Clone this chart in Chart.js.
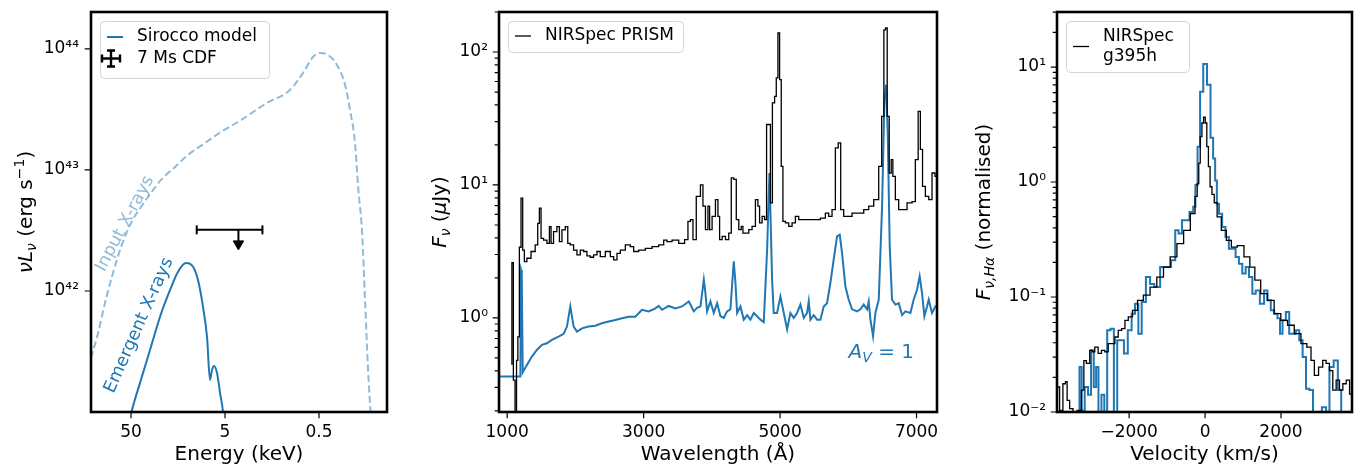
<!DOCTYPE html>
<html>
<head>
<meta charset="utf-8">
<script src="https://cdn.jsdelivr.net/npm/chart.js@4.4.1/dist/chart.umd.min.js"></script>
<style>
  body { margin: 0; background: #fff; }
  #wrap { position: relative; width: 1354px; height: 466px; overflow: hidden; }
  canvas { position: absolute; top: 0; }
</style>
</head>
<body>
<div id="wrap">
  <canvas id="xray" width="400" height="466" style="left:0"></canvas>
  <canvas id="prism" width="550" height="466" style="left:400px"></canvas>
  <canvas id="halpha" width="404" height="466" style="left:950px"></canvas>
</div>
<script>
// ---- panel 1 : x-ray SED (energy in keV, nuLnu in erg/s)
const energyIn = [133.2, 112, 94.6, 77.7, 63.8, 50, 39.2, 30.6, 24.0, 17.0,
  12.4, 8.17, 5.52, 3.64, 1.79, 1.02, 0.74, 0.58, 0.488, 0.401,
  0.322, 0.264, 0.234, 0.207, 0.192, 0.174, 0.162, 0.151, 0.140];
const lumIn = [2.79e41, 4.5e41, 7.96e41, 1.41e42, 2.31e42, 3.65e42, 4.94e42, 6.46e42, 8.27e42, 1.06e43,
  1.33e43, 1.67e43, 2.06e43, 2.49e43, 3.58e43, 4.58e43, 6.33e43, 8.58e43, 9.27e43, 8.92e43,
  7.38e43, 5.04e43, 3.13e43, 1.67e43, 7.24e42, 3.02e42, 8.44e41, 2.36e41, 8.6e40];
const energyOut = [55, 48.8, 40.1, 31.4, 24.6, 19.2, 15.8, 13.0, 10.9, 9.69,
  8.57, 7.77, 7.22, 6.88, 6.55, 6.08, 5.65, 5.25, 5.0];
const lumOut = [7e40, 1.04e41, 1.74e41, 3.25e41, 6.1e41, 1.02e42, 1.44e42, 1.70e42, 1.58e42, 1.23e42,
  7.38e41, 4.17e41, 1.84e41, 2.22e41, 2.4e41, 2.1e41, 1.44e41, 1.0e41, 6e40];
// 7 Ms CDF upper limit (2-10 keV band)
const cdfBand = [10, 2];
const cdfLimit = 3.2e42;
const cdfArrowE = 3.6;
const cdfArrowEnd = 2.45e42;
const energyTicks = [50, 5, 0.5];
const lumTicks = [1e42, 1e43, 1e44];

// ---- panel 2 : PRISM spectrum (Angstrom, microJy)
const prismWave = [1060, 1078, 1103, 1127, 1147, 1166, 1191, 1215, 1240, 1264,
  1313, 1386, 1435, 1460, 1484, 1509, 1558, 1607, 1631, 1655,
  1704, 1753, 1778, 1827, 1876, 1900, 1949, 1998, 2047, 2096,
  2145, 2193, 2242, 2291, 2340, 2389, 2487, 2536, 2585, 2634,
  2683, 2780, 2829, 2878, 2976, 3074, 3172, 3270, 3318, 3367,
  3465, 3563, 3637, 3662, 3711, 3735, 3808, 3857, 3882, 3930,
  3955, 3979, 4028, 4077, 4101, 4126, 4175, 4223, 4272, 4297,
  4346, 4370, 4419, 4443, 4468, 4517, 4565, 4614, 4663, 4687,
  4712, 4761, 4785, 4819, 4849, 4868, 4907, 4932, 4956, 4981,
  5005, 5029, 5054, 5103, 5151, 5200, 5249, 5298, 5347, 5444,
  5542, 5640, 5688, 5737, 5786, 5835, 5869, 5908, 5957, 6031,
  6079, 6177, 6275, 6324, 6421, 6470, 6509, 6534, 6558, 6582,
  6617, 6641, 6665, 6714, 6763, 6812, 6910, 6958, 7007, 7041,
  7071, 7105, 7154, 7203, 7251, 7290];
const prismFlux = [0.45, 2.6, 0.34, 0.12, 0.48, 0.72, 3.4, 7.95, 3.24, 2.65,
  2.81, 3.16, 3.54, 5.15, 6.68, 3.97, 3.85, 3.64, 4.86, 3.64,
  4.46, 4.86, 3.75, 4.59, 4.86, 3.64, 3.54, 3.24, 2.98, 3.24,
  3.16, 2.93, 2.86, 2.98, 3.16, 2.89, 3.16, 2.89, 2.73, 3.06,
  3.24, 3.54, 3.44, 3.16, 3.24, 3.34, 3.44, 3.54, 3.85, 3.75,
  3.85, 3.64, 3.88, 5.33, 5.48, 3.88, 8.22, 10.0, 6.92, 4.61,
  6.92, 4.61, 5.81, 7.76, 5.81, 3.88, 4.11, 3.88, 4.35, 11.3,
  11.0, 5.48, 4.61, 4.88, 4.35, 4.35, 4.61, 4.88, 7.76, 6.92,
  5.18, 5.81, 5.48, 28.5, 28.5, 7.33, 41.4, 46.4, 63.8, 139,
  61.9, 13.8, 5.33, 5.18, 4.88, 5.18, 5.81, 5.48, 5.48, 5.48,
  5.48, 5.64, 6.15, 5.81, 6.53, 19.0, 20.7, 6.53, 5.81, 5.81,
  6.15, 6.15, 6.53, 6.92, 7.76, 13.8, 32.8, 147, 152, 32.8,
  12.3, 15.5, 11.6, 7.76, 6.53, 6.53, 7.33, 7.5, 15.5, 35.8,
  18.5, 9.77, 8.22, 7.76, 12.3, 11.6];
const modelWave = [880, 1193, 1203, 1213, 1228, 1289, 1362, 1435, 1509, 1582,
  1655, 1753, 1827, 1876, 1925, 1974, 2023, 2096, 2193, 2291,
  2389, 2487, 2585, 2683, 2780, 2878, 2976, 3074, 3172, 3220,
  3270, 3367, 3465, 3563, 3661, 3686, 3735, 3784, 3833, 3882,
  3906, 3930, 3979, 4028, 4077, 4126, 4175, 4223, 4272, 4321,
  4346, 4370, 4419, 4468, 4517, 4565, 4614, 4663, 4712, 4761,
  4810, 4844, 4883, 4907, 4956, 5005, 5054, 5103, 5151, 5200,
  5249, 5298, 5347, 5396, 5420, 5444, 5493, 5542, 5591, 5640,
  5688, 5737, 5786, 5835, 5874, 5908, 5957, 6006, 6055, 6128,
  6177, 6226, 6275, 6299, 6324, 6363, 6397, 6446, 6495, 6529,
  6553, 6578, 6607, 6641, 6690, 6739, 6788, 6837, 6910, 6958,
  7007, 7046, 7081, 7115, 7154, 7178, 7227, 7276, 7310];
const modelFlux = [0.362, 0.362, 2.3, 2.2, 0.39, 0.443, 0.512, 0.574, 0.627, 0.645,
  0.684, 0.724, 0.759, 0.861, 1.22, 0.861, 0.789, 0.835, 0.861, 0.873,
  0.912, 0.94, 0.966, 0.995, 1.02, 1.02, 1.15, 1.12, 1.18, 1.23,
  1.15, 1.23, 1.18, 1.22, 1.33, 1.26, 1.12, 1.19, 1.22, 1.94,
  1.53, 1.12, 1.33, 1.09, 1.29, 1.03, 1.0, 1.12, 1.16, 2.67,
  1.83, 1.09, 1.22, 0.97, 1.05, 0.97, 1.09, 1.03, 0.97, 0.93,
  3.27, 12.3, 1.94, 1.09, 1.09, 1.45, 1.09, 0.82, 1.09, 1.0,
  1.09, 1.26, 1.0, 1.09, 1.33, 0.97, 1.05, 0.97, 0.97, 1.22,
  1.29, 1.83, 2.75, 4.11, 4.23, 3.08, 1.73, 1.37, 1.16, 1.12,
  1.16, 1.26, 1.16, 1.33, 0.97, 0.728, 1.09, 1.37, 6.92, 43.8,
  56.8, 24.6, 3.46, 1.37, 1.26, 1.29, 1.05, 1.12, 1.09, 1.37,
  1.63, 2.06, 1.53, 1.03, 1.22, 1.37, 1.09, 1.22, 1.25];
const waveTicks = [1000, 3000, 5000, 7000];

// ---- panel 3 : H-alpha velocity profile (km/s, normalised)
const velPrism = [-3876, -3788, -3700, -3656, -3611, -3523, -3435, -3302, -3214, -3170,
  -3082, -2993, -2949, -2861, -2773, -2684, -2596, -2508, -2419, -2331,
  -2243, -2155, -2066, -1978, -1845, -1713, -1536, -1360, -1183, -1007,
  -830, -653, -477, -300, -230, -184, -149, -105, -61, -18,
  26, 66, 110, 153, 210, 274, 362, 494, 627, 759,
  936, 1113, 1245, 1377, 1554, 1731, 1907, 2084, 2260, 2437,
  2614, 2746, 2834, 2923, 3055, 3143, 3232, 3320, 3408, 3497,
  3585, 3673, 3762, 3850];
const fluxPrism = [0.0165, 0.0103, 0.0176, 0.0184, 0.0126, 0.0107, 0.0100, 0.0103, 0.0155, 0.028,
  0.0265, 0.0344, 0.0334, 0.0367, 0.0323, 0.0344, 0.0334, 0.0393, 0.0393, 0.0449,
  0.0513, 0.053, 0.0627, 0.0672, 0.0766, 0.0936, 0.104, 0.122, 0.149, 0.182,
  0.223, 0.291, 0.38, 0.531, 0.75, 0.97, 1.46, 2.48, 3.26, 3.66,
  3.26, 2.03, 1.36, 0.91, 0.78, 0.66, 0.497, 0.38, 0.311, 0.272,
  0.28, 0.223, 0.182, 0.140, 0.107, 0.0936, 0.0716, 0.0627, 0.0568, 0.048,
  0.0393, 0.0367, 0.0281, 0.0208, 0.0246, 0.0281, 0.0265, 0.0229, 0.0155, 0.0189,
  0.0155, 0.0176, 0.0189, 0.0143];
const velModel = [-3900, -3330, -3285, -3214, -3126, -3038, -2967, -2896, -2843, -2773,
  -2684, -2623, -2534, -2446, -2358, -2269, -2181, -2093, -1978, -1890,
  -1801, -1713, -1625, -1492, -1404, -1272, -1095, -962, -830, -742,
  -653, -565, -477, -344, -280, -230, -166, -96, 0, 103,
  184, 240, 290, 330, 406, 494, 583, 671, 759, 848,
  936, 1024, 1113, 1201, 1289, 1377, 1510, 1598, 1687, 1775,
  1863, 1951, 1996, 2084, 2172, 2260, 2349, 2437, 2525, 2614,
  2702, 2790, 2896, 3011, 3143, 3232, 3320, 3453, 3541, 3630,
  3762, 3870];
const fluxModel = [0.005, 0.005, 0.0246, 0.0103, 0.0165, 0.0141, 0.0344, 0.0165, 0.0246, 0.008,
  0.0141, 0.008, 0.0513, 0.053, 0.008, 0.042, 0.042, 0.0323, 0.0513, 0.0716,
  0.0875, 0.048, 0.0905, 0.149, 0.13, 0.122, 0.182, 0.182, 0.209, 0.38,
  0.356, 0.465, 0.465, 0.55, 0.61, 0.94, 2.03, 6.1, 10.6, 7.0,
  2.43, 1.6, 1.03, 0.648, 0.531, 0.406, 0.333, 0.263, 0.263, 0.223,
  0.195, 0.16, 0.182, 0.149, 0.107, 0.114, 0.0875, 0.114, 0.0936, 0.0766,
  0.0716, 0.0653, 0.048, 0.0627, 0.0741, 0.048, 0.048, 0.0513, 0.042, 0.0301,
  0.0159, 0.0155, 0.008, 0.008, 0.011, 0.008, 0.0246, 0.0281, 0.0155, 0.008,
  0.008, 0.008];
const velTicks = [-2000, 0, 2000];

// ---------------------------------------------------------------
const FONT = "DejaVu Sans";
const BLUE = "#1f77b4";
const LIGHT = "rgba(31,119,180,0.5)";
Chart.defaults.font.family = FONT;
Chart.defaults.color = "#000";

const SUP = { "0": "⁰", "1": "¹", "2": "²", "3": "³", "4": "⁴", "5": "⁵", "6": "⁶", "7": "⁷", "8": "⁸", "9": "⁹", "-": "⁻" };
const isPow10 = (v) => Math.abs(Math.log10(v) - Math.round(Math.log10(v))) < 1e-6;
const powLabel = (v) => "10" + String(Math.round(Math.log10(v))).split("").map((c) => SUP[c]).join("");
const minus = (v) => (v < 0 ? "\u2212" + Math.abs(v) : String(v));
const pts = (xs, ys) => xs.map((x, i) => ({ x, y: ys[i] }));

// 1..9 x 10^n between lo and hi (log minor ticks)
function logTicks(lo, hi) {
  const out = [];
  for (let e = Math.floor(Math.log10(lo)); e <= Math.ceil(Math.log10(hi)); e++) {
    for (let k = 1; k < 10; k++) {
      const v = k * Math.pow(10, e);
      if (v >= lo && v <= hi) out.push(v);
    }
  }
  return out;
}

// text with italic / sub / superscript bits, like matplotlib mathtext
function richText(ctx, parts, x, y, size, o = {}) {
  const list = parts.map((p) => (typeof p === "string" ? { t: p } : Object.assign({}, p)));
  const f = (p) => `${p.it ? "italic " : ""}${p.sub || p.sup ? size * 0.7 : size}px "${FONT}"`;
  let w = 0;
  list.forEach((p) => { ctx.font = f(p); p.w = ctx.measureText(p.t).width; w += p.w; });
  ctx.save();
  ctx.translate(x, y);
  if (o.rot) ctx.rotate((o.rot * Math.PI) / 180);
  ctx.fillStyle = o.color || "#000";
  ctx.textBaseline = o.baseline || "alphabetic";
  let cx = o.align === "left" ? 0 : -w / 2;
  list.forEach((p) => {
    ctx.font = f(p);
    const dy = p.sub ? size * 0.22 : p.sup ? -size * 0.4 : 0;
    ctx.fillText(p.t, cx, dy);
    cx += p.w;
  });
  ctx.restore();
}

function drawLegend(ctx, a, lg) {
  const x0 = a.left + 9, y0 = a.top + 9;
  ctx.save();
  ctx.beginPath();
  ctx.roundRect(x0 + 0.5, y0 + 0.5, lg.w, lg.h, 4);
  ctx.fillStyle = "rgba(255,255,255,0.8)";
  ctx.fill();
  ctx.strokeStyle = "#d4d4d4";
  ctx.lineWidth = 1;
  ctx.stroke();
  ctx.font = `17px "${FONT}"`;
  ctx.textBaseline = "middle";
  lg.items.forEach((it) => {
    const cy = y0 + it.dy;
    ctx.fillStyle = "#000";
    it.text.forEach((s, i) => ctx.fillText(s, x0 + 37, cy + (i - (it.text.length - 1) / 2) * 20));
    ctx.strokeStyle = it.color || "#000";
    if (it.kind === "line") {
      ctx.lineWidth = it.width;
      ctx.beginPath();
      ctx.moveTo(x0 + 7, cy);
      ctx.lineTo(x0 + 23, cy);
      ctx.stroke();
    } else {
      // errorbar glyph
      const cx = x0 + 11;
      ctx.lineWidth = 2.4;
      ctx.beginPath();
      ctx.moveTo(cx - 9, cy); ctx.lineTo(cx + 9, cy);
      ctx.moveTo(cx, cy - 8); ctx.lineTo(cx, cy + 8);
      ctx.moveTo(cx - 9, cy - 4); ctx.lineTo(cx - 9, cy + 4);
      ctx.moveTo(cx + 9, cy - 4); ctx.lineTo(cx + 9, cy + 4);
      ctx.moveTo(cx - 4, cy - 8); ctx.lineTo(cx + 4, cy - 8);
      ctx.moveTo(cx - 4, cy + 8); ctx.lineTo(cx + 4, cy + 8);
      ctx.stroke();
    }
  });
  ctx.restore();
}

// frame, outward ticks, axis titles, legend box and text notes
// (config kept in the closure so Chart.js does not proxy it)
function makeDecor(o) {
  return {
    id: "decor",
    afterDatasetsDraw(chart) {
      const { ctx, chartArea: a, scales } = chart;
      ctx.save();
      ctx.strokeStyle = "#000";
      ctx.lineWidth = 1.2;
      ctx.beginPath();
      scales.x.ticks.forEach((t) => {
        const p = scales.x.getPixelForValue(t.value);
        const len = t.label === "" ? 3 : 5;
        ctx.moveTo(p, a.bottom); ctx.lineTo(p, a.bottom + 1.3 + len);
      });
      scales.y.ticks.forEach((t) => {
        const p = scales.y.getPixelForValue(t.value);
        const len = t.label === "" ? 3 : 5;
        ctx.moveTo(a.left, p); ctx.lineTo(a.left - 1.3 - len, p);
      });
      ctx.stroke();
      ctx.lineWidth = 2.6;
      ctx.strokeRect(a.left, a.top, a.right - a.left, a.bottom - a.top);
      ctx.restore();
    },
    afterDraw(chart) {
      const { ctx, chartArea: a, scales } = chart;
      richText(ctx, [o.xTitle], (a.left + a.right) / 2, 460, 20);
      richText(ctx, o.yTitle, o.yTitleX, (a.top + a.bottom) / 2, 20, { rot: -90 });
      drawLegend(ctx, a, o.legend);
      (o.notes || []).forEach((n) => {
        richText(ctx, n.parts, scales.x.getPixelForValue(n.x), scales.y.getPixelForValue(n.y), n.size,
          { rot: n.rot, color: n.color, align: n.align, baseline: n.baseline });
      });
    },
  };
}

function axis(opts, fixed) {
  return Object.assign({
    grid: { display: false, drawTicks: false },
    border: { display: false },
    afterFit(s) {
      if (s.isHorizontal()) { s.height = fixed; s.paddingLeft = 0; s.paddingRight = 0; }
      else { s.width = fixed; s.paddingTop = 0; s.paddingBottom = 0; }
    },
  }, opts);
}

function tickOpts(cb, pad) {
  return { font: { size: 17 }, color: "#000", padding: pad, autoSkip: false, maxRotation: 0, minRotation: 0, callback: cb };
}

function baseOptions(padRight, scales) {
  return {
    responsive: false,
    animation: false,
    devicePixelRatio: 1,
    layout: { padding: { top: 12, right: padRight, left: 0, bottom: 0 } },
    elements: { point: { radius: 0 } },
    plugins: { legend: { display: false }, tooltip: { enabled: false } },
    scales,
  };
}

const setTicks = (vals) => (s) => { s.ticks = vals.map((v) => ({ value: v })); };

// ---- panel 1
new Chart(document.getElementById("xray"), {
  type: "line",
  data: {
    datasets: [
      { data: pts([cdfArrowE, cdfArrowE], [cdfLimit, cdfArrowEnd]), borderColor: "#000", borderWidth: 2,
        pointRadius: [0, 6], pointStyle: "triangle", rotation: 180, pointBackgroundColor: "#000", pointBorderColor: "#000", pointBorderWidth: 1 },
      { data: pts(cdfBand, [cdfLimit, cdfLimit]), borderColor: "#000", borderWidth: 2,
        pointRadius: 4.5, pointStyle: "line", rotation: 90, pointBorderColor: "#000", pointBorderWidth: 2 },
      { label: "Sirocco model", data: pts(energyOut, lumOut), borderColor: BLUE, borderWidth: 2, cubicInterpolationMode: "monotone" },
      { data: pts(energyIn, lumIn), borderColor: LIGHT, borderWidth: 2, borderDash: [7, 3.5], cubicInterpolationMode: "monotone" },
    ],
  },
  options: baseOptions(13, {
    x: axis({ type: "logarithmic", reverse: true, min: 0.0946, max: 133.2, afterBuildTicks: setTicks(energyTicks),
      ticks: tickOpts((v) => String(v), 10) }, 54),
    y: axis({ type: "logarithmic", min: 1e41, max: 2.02e44, afterBuildTicks: setTicks(lumTicks),
      ticks: tickOpts((v) => powLabel(v), 12) }, 91),
  }),
  plugins: [makeDecor({
    xTitle: "Energy (keV)",
    yTitle: [{ t: "ν", it: 1 }, { t: "L", it: 1 }, { t: "ν", it: 1, sub: 1 }, " (erg s", { t: "−1", sup: 1 }, ")"],
    yTitleX: 32,
    legend: { w: 169, h: 57, items: [
      { kind: "line", color: BLUE, width: 2, text: ["Sirocco model"], dy: 16 },
      { kind: "err", text: ["7 Ms CDF"], dy: 37.5 },
    ] },
    notes: [
      { parts: ["Input X-rays"], x: 58, y: 3.6e42, rot: -62, color: LIGHT, size: 17.5, baseline: "middle" },
      { parts: ["Emergent X-rays"], x: 41, y: 5.2e41, rot: -66, color: BLUE, size: 17.5, baseline: "middle" },
    ],
  })],
});

// ---- panel 2
new Chart(document.getElementById("prism"), {
  type: "line",
  data: {
    datasets: [
      { label: "NIRSpec PRISM", data: pts(prismWave, prismFlux), borderColor: "#000", borderWidth: 1.3, stepped: "middle" },
      { data: pts(modelWave, modelFlux), borderColor: BLUE, borderWidth: 2, tension: 0 },
    ],
  },
  options: baseOptions(13, {
    x: axis({ type: "linear", min: 880, max: 7300, afterBuildTicks: setTicks(waveTicks),
      ticks: tickOpts((v) => String(v), 10) }, 54),
    y: axis({ type: "logarithmic", min: 0.196, max: 200, afterBuildTicks: setTicks(logTicks(0.196, 200)),
      ticks: tickOpts((v) => (isPow10(v) ? powLabel(v) : ""), 11) }, 99),
  }),
  plugins: [makeDecor({
    xTitle: "Wavelength (Å)",
    yTitle: [{ t: "F", it: 1 }, { t: "ν", it: 1, sub: 1 }, " (", { t: "μ", it: 1 }, "Jy)"],
    yTitleX: 46,
    legend: { w: 175, h: 31, items: [{ kind: "line", color: "#000", width: 1.3, text: ["NIRSpec PRISM"], dy: 15 }] },
    notes: [
      { parts: [{ t: "A", it: 1 }, { t: "V", it: 1, sub: 1 }, " = 1"], x: 6004, y: 0.5, color: BLUE, size: 20, align: "left" },
    ],
  })],
});

// ---- panel 3
new Chart(document.getElementById("halpha"), {
  type: "line",
  data: {
    datasets: [
      { label: "NIRSpec g395h", data: pts(velPrism, fluxPrism), borderColor: "#000", borderWidth: 1.3, stepped: "middle" },
      { data: pts(velModel, fluxModel), borderColor: BLUE, borderWidth: 2, stepped: "middle" },
    ],
  },
  options: baseOptions(2, {
    x: axis({ type: "linear", min: -3900, max: 3870, afterBuildTicks: setTicks(velTicks),
      ticks: tickOpts((v) => minus(v), 10) }, 54),
    y: axis({ type: "logarithmic", min: 0.01, max: 30.1, afterBuildTicks: setTicks(logTicks(0.01, 30.1)),
      ticks: tickOpts((v) => (isPow10(v) ? powLabel(v) : ""), 11) }, 107),
  }),
  plugins: [makeDecor({
    xTitle: "Velocity (km/s)",
    yTitle: [{ t: "F", it: 1 }, { t: "ν,Hα", it: 1, sub: 1 }, " (normalised)"],
    yTitleX: 40,
    legend: { w: 123, h: 51, items: [{ kind: "line", color: "#000", width: 1.3, text: ["NIRSpec", "g395h"], dy: 25.5 }] },
  })],
});
</script>
</body>
</html>
